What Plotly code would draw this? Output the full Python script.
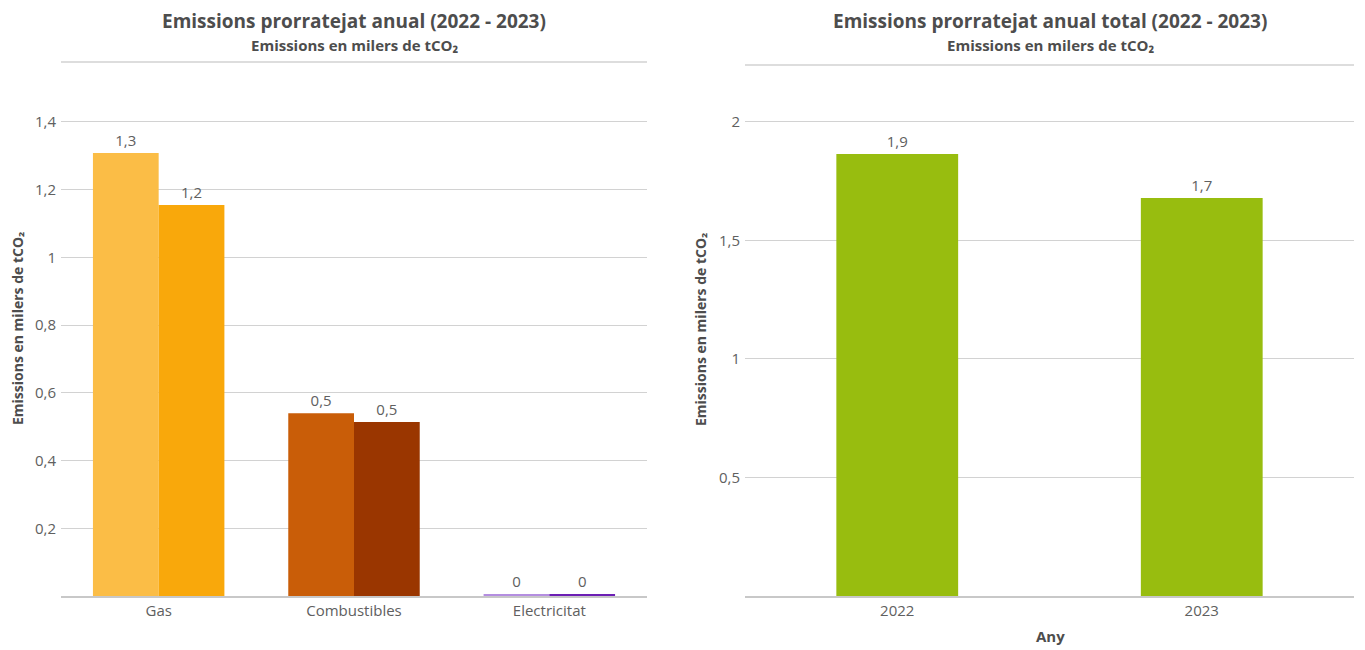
import plotly.graph_objects as go

# --- data ---
categories = ["Gas", "Combustibles", "Electricitat"]
values_2022 = [1.308, 0.540, 0.006]
values_2023 = [1.155, 0.514, 0.006]
colors_2022 = ["#FBBD46", "#C95D08", "#B48EE0"]
colors_2023 = ["#F9A80B", "#9A3600", "#6C1FB4"]

years = ["2022", "2023"]
totals = [1.865, 1.679]
total_color = "#98BD0F"

left_ticks = [0.2, 0.4, 0.6, 0.8, 1.0, 1.2, 1.4]
right_ticks = [0.5, 1.0, 1.5, 2.0]

FONT = "Segoe UI, Open Sans, sans-serif"
TEXT = "#4D4D4D"
TICK = "#606060"
GRID = "#D2D2D2"

# the page has an 8px body margin, so the figure is shrunk by it
W, H = 1357, 642


def px(x):
    return (x - 8) / W


def py(y):
    return (650 - y) / H


def label(v):
    return f"{round(v, 1):g}".replace(".", ",")


fig = go.Figure()
fig.add_trace(go.Bar(x=categories, y=values_2022, name="2022",
                     marker=dict(color=colors_2022, line=dict(width=0)),
                     text=[label(v) for v in values_2022], textposition="outside",
                     textfont=dict(size=15, color=TICK), cliponaxis=False,
                     xaxis="x", yaxis="y"))
fig.add_trace(go.Bar(x=categories, y=values_2023, name="2023",
                     marker=dict(color=colors_2023, line=dict(width=0)),
                     text=[label(v) for v in values_2023], textposition="outside",
                     textfont=dict(size=15, color=TICK), cliponaxis=False,
                     xaxis="x", yaxis="y"))
fig.add_trace(go.Bar(x=years, y=totals, name="Total", width=0.4,
                     marker=dict(color=total_color, line=dict(width=0)),
                     text=[label(v) for v in totals], textposition="outside",
                     textfont=dict(size=15, color=TICK), cliponaxis=False,
                     xaxis="x2", yaxis="y2"))

axis_common = dict(showgrid=True, gridcolor=GRID, gridwidth=1, zeroline=False,
                   tickfont=dict(size=15, color=TICK), ticks="", ticklabelstandoff=4)
xcommon = dict(showgrid=False, showline=True, linecolor="#C8C8C8", linewidth=2,
               tickfont=dict(size=15, color=TICK), ticks="", type="category")

fig.update_layout(
    width=W, height=H,
    margin=dict(l=0, r=0, t=0, b=0),
    paper_bgcolor="white", plot_bgcolor="white",
    font=dict(family=FONT, color=TEXT),
    separators=", ",
    showlegend=False,
    barmode="group", bargap=0.327, bargroupgap=0,
    xaxis=dict(domain=[px(61), px(647)], anchor="y", range=[-0.5, 2.5], **xcommon),
    yaxis=dict(domain=[py(596), py(62)], anchor="x", range=[0, 1.577],
               tickvals=left_ticks, **axis_common),
    xaxis2=dict(domain=[px(745), px(1354)], anchor="y2", range=[-0.5, 1.5], **xcommon),
    yaxis2=dict(domain=[py(596), py(65)], anchor="x2", range=[0, 2.24],
                tickvals=right_ticks, **axis_common),
)

# top border lines
for xr, yr in (("x domain", "y domain"), ("x2 domain", "y2 domain")):
    fig.add_shape(type="line", xref=xr, yref=yr, x0=0, x1=1, y0=1, y1=1,
                  line=dict(color=GRID, width=1.5))

ann = []
for cx, title in ((354, "Emissions prorratejat anual (2022 - 2023)"),
                  (1050, "Emissions prorratejat anual total (2022 - 2023)")):
    ann.append(dict(x=px(cx), y=py(21), text=f"<b>{title}</b>",
                    font=dict(size=19, color=TEXT)))
    ann.append(dict(x=px(cx), y=py(45), text="<b>Emissions en milers de tCO₂</b>",
                    font=dict(size=15, color=TEXT)))
for ax, cy in ((17, 329), (701, 330)):
    ann.append(dict(x=px(ax), y=py(cy), text="<b>Emissions en milers de tCO₂</b>",
                    textangle=-90, font=dict(size=14, color=TEXT)))
ann.append(dict(x=px(1050), y=py(636), text="<b>Any</b>",
                font=dict(size=15, color=TEXT)))
for a in ann:
    a.update(xref="paper", yref="paper", xanchor="center", yanchor="middle",
             showarrow=False, borderpad=0)
fig.update_layout(annotations=ann)

fig.write_html("out.html")
